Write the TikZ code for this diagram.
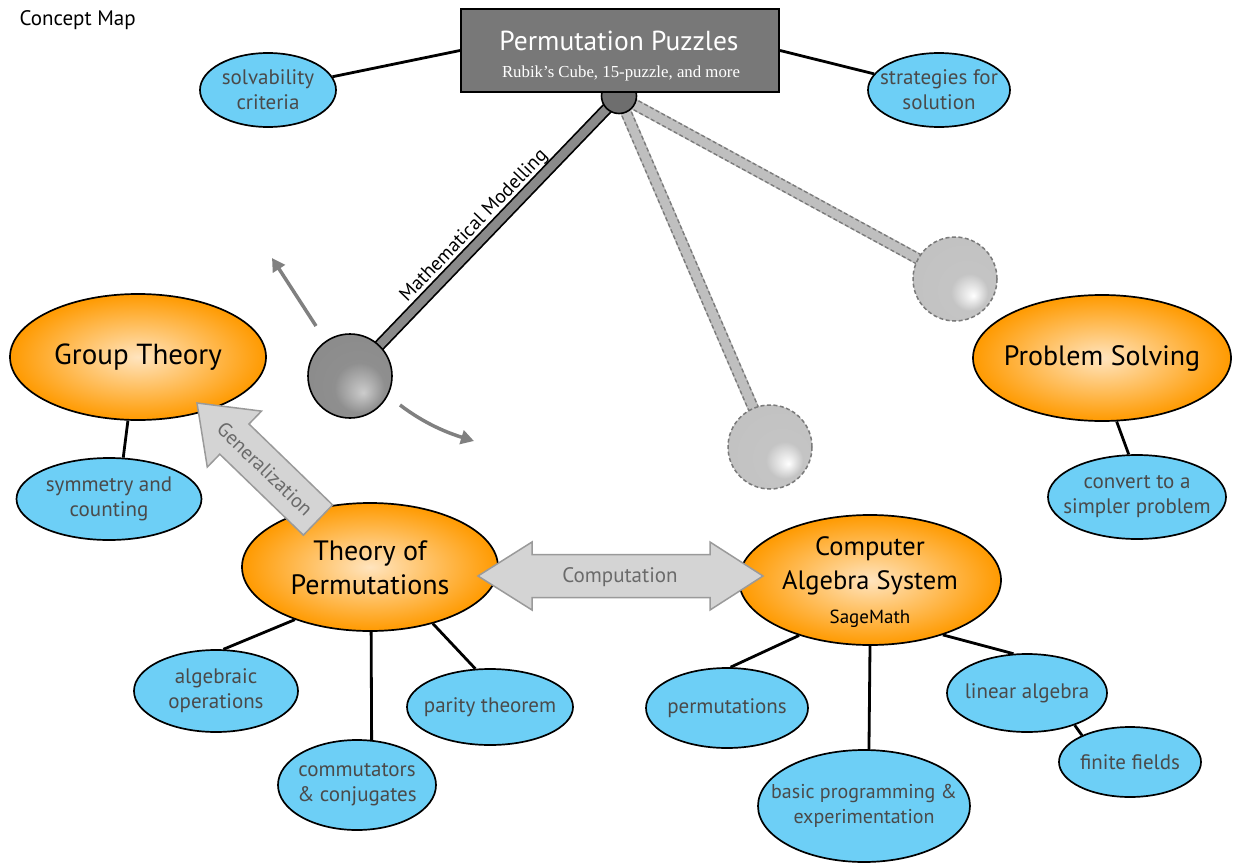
\documentclass[tikz,border=0pt]{standalone}
\usepackage{fontspec}
\setmainfont{PT Sans}
\newfontfamily\seriffont{Liberation Serif}
\usetikzlibrary{shapes.geometric,arrows.meta,calc}
\definecolor{skyblue}{HTML}{6DCFF6}
\definecolor{orangeout}{HTML}{FF9A00}
\definecolor{orangein}{HTML}{FFE4BE}
\definecolor{boxgray}{HTML}{787878}
\definecolor{hubgray}{HTML}{6E6E6E}
\definecolor{bluetext}{HTML}{4A4A4A}
\definecolor{arrowgray}{HTML}{808080}
\definecolor{blockfill}{HTML}{D4D4D4}
\definecolor{blockedge}{HTML}{9A9A9A}
\definecolor{blocktext}{HTML}{6A6A6A}
\definecolor{lightbar}{HTML}{BFBFBF}
\definecolor{dashedge}{HTML}{7A7A7A}
\definecolor{darkbar}{HTML}{8A8A8A}
\pgfdeclareradialshading{darkball}{\pgfqpoint{8bp}{-10bp}}{color(0bp)=(white!80!black); color(15bp)=(white!56!black); color(50bp)=(white!53!black)}
\pgfdeclareradialshading{lightball}{\pgfqpoint{11bp}{-10bp}}{color(0bp)=(white); color(11bp)=(white!77!black); color(50bp)=(white!75!black)}
\pgfdeclarelayer{bg}
\pgfdeclarelayer{mid}
\pgfsetlayers{bg,mid,main}
\tikzset{
  leaf/.style={ellipse, draw=black, line width=1.7pt, fill=skyblue, inner sep=0pt},
  leaftext/.style={text=bluetext, font=\fontsize{21}{25}\selectfont, align=center, inner sep=0pt},
  core/.style={ellipse, draw=black, line width=1.7pt, inner color=orangein, outer color=orangeout, inner sep=0pt},
  coretext/.style={text=black, font=\fontsize{28}{34}\selectfont, align=center, inner sep=0pt},
  link/.style={line width=2.8pt, black},
  garrow/.style={line width=3.5pt, arrowgray, -{Triangle[length=13pt,width=14pt]}},
  blockarrow/.style={fill=blockfill, draw=blockedge, line width=1.5pt, line join=miter},
  blocklabel/.style={text=blocktext, font=\fontsize{21}{24}\selectfont},
  darkballnode/.style={circle, draw=black, line width=1.6pt, shading=darkball, minimum size=84pt, inner sep=0pt},
  lightballnode/.style={circle, draw=dashedge, line width=1.5pt, dash pattern=on 4pt off 2.5pt, shading=lightball, minimum size=84pt, inner sep=0pt},
}
\begin{document}
\begin{tikzpicture}[x=1pt,y=-1pt]
\useasboundingbox (0,0) rectangle (1239,867);
\begin{pgfonlayer}{bg}
\fill[white] (0,0) rectangle (1239,867);
\end{pgfonlayer}

\node[anchor=west, font=\fontsize{21}{23}\selectfont] (title) at (16,20) {Concept Map};

% top box
\node[rectangle, draw=black, line width=2pt, fill=boxgray, minimum width=318pt, minimum height=83pt, inner sep=0pt] (pp) at (620,50.5) {};
\node[text=white, font=\fontsize{27.5}{30}\selectfont] (pptitle) at (619,41) {Permutation Puzzles};
\node[text=white, font=\seriffont\fontsize{16.8}{18}\selectfont] (ppsub) at (621,73) {Rubik’s Cube, 15-puzzle, and more};

\begin{pgfonlayer}{mid}
\node[circle, draw=black, line width=1.6pt, fill=hubgray, minimum size=35pt, inner sep=0pt] (hub) at (619,96) {};
\end{pgfonlayer}

% balls
\node[darkballnode] (ballA) at (350,376) {};
\node[lightballnode] (ballB) at (770,447) {};
\node[lightballnode] (ballC) at (955,279) {};

% ellipses (shapes)
\node[leaf, minimum width=136pt, minimum height=74pt] (solv) at (268,90) {};
\node[leaf, minimum width=142pt, minimum height=74pt] (strat) at (939,90) {};
\node[core, minimum width=256pt, minimum height=126pt] (gt) at (138,357) {};
\node[leaf, minimum width=185pt, minimum height=82pt] (sym) at (109,499) {};
\node[core, minimum width=256pt, minimum height=128pt] (tp) at (370,567) {};
\node[core, minimum width=262pt, minimum height=130pt] (cas) at (870,580) {};
\node[core, minimum width=258pt, minimum height=126pt] (ps) at (1102,358) {};
\node[leaf, minimum width=178pt, minimum height=84pt] (conv) at (1137,497) {};
\node[leaf, minimum width=164pt, minimum height=82pt] (alg) at (216,691) {};
\node[leaf, minimum width=158pt, minimum height=90pt] (comm) at (357,785) {};
\node[leaf, minimum width=166pt, minimum height=76pt] (par) at (490,707) {};
\node[leaf, minimum width=162pt, minimum height=80pt] (perm) at (727,708) {};
\node[leaf, minimum width=212pt, minimum height=112pt] (basic) at (864,806) {};
\node[leaf, minimum width=160pt, minimum height=78pt] (lin) at (1027,693) {};
\node[leaf, minimum width=142pt, minimum height=70pt] (ff) at (1130,762) {};

% ellipse texts
\node[leaftext] (solvT) at (solv) {solvability\\criteria};
\node[leaftext] (stratT) at (strat) {strategies for\\solution};
\node[coretext, font=\fontsize{29}{34}\selectfont] (gtT) at (gt) {Group Theory};
\node[leaftext] (symT) at (sym) {symmetry and\\counting};
\node[coretext] (tpT) at ($(tp)+(0,1)$) {Theory of\\Permutations};
\node[coretext, font=\fontsize{26.5}{34}\selectfont] (casT) at ($(cas)+(0,2)$) {Computer\\Algebra System\\{\fontsize{19}{20}\selectfont SageMath}};
\node[coretext] (psT) at (ps) {Problem Solving};
\node[leaftext] (convT) at (conv) {convert to a\\simpler problem};
\node[leaftext] (algT) at (alg) {algebraic\\operations};
\node[leaftext] (commT) at (comm) {commutators\\\& conjugates};
\node[leaftext] (parT) at (par) {parity theorem};
\node[leaftext] (permT) at (perm) {permutations};
\node[leaftext, font=\fontsize{20}{25}\selectfont] (basicT) at (basic) {basic programming \&\\experimentation};
\node[leaftext] (linT) at (lin) {linear algebra};
\node[leaftext] (ffT) at (ff) {finite fields};

% connectors and bars behind
\begin{pgfonlayer}{bg}
\draw[link] (pp.west) -- (solv);
\draw[link] (pp.east) -- (strat);
\draw[link] (gt.261) -- (sym.71);
\draw[link] (tp.215) -- (alg.80);
\draw[link] (tp.271) -- (comm.72);
\draw[link] (tp.318) -- (par.111);
\draw[link] (cas.218) -- (perm.85);
\draw[link] (cas.270) -- (basic.85);
\draw[link] (cas.323) -- (lin.109);
\draw[link] (lin.326) -- (ff.151);
\draw[link] (ps.283) -- (conv.101);
% light dashed bars
\foreach \b in {ballB,ballC}{
  \draw[line width=11.5pt, lightbar] (hub.center) -- (\b.center);
  \draw[line width=11.5pt, dashedge, dash pattern=on 4pt off 2.5pt] (hub.center) -- (\b.center);
  \draw[line width=8.5pt, lightbar] (hub.center) -- (\b.center);
}
% dark bar
\draw[line width=12pt, black] (hub.center) -- (ballA.center);
\draw[line width=8.5pt, darkbar] (hub.center) -- (ballA.center);
\end{pgfonlayer}
\path (ballA.center) -- (hub.center) node[pos=0.5, sloped, above=5pt, font=\fontsize{19.5}{21}\selectfont, inner sep=0pt] (mmlabel) {Mathematical Modelling};

% motion arrows
\coordinate (g1s) at (316,326);
\coordinate (g1e) at (272,258);
\coordinate (g2s) at (400,405);
\coordinate (g2e) at (474,441);
\draw[garrow] (g1s) -- (g1e);
\draw[garrow] (g2s) .. controls (425,424) and (448,433) .. (g2e);

% Generalization block arrow
\draw[blockarrow] (197,403) -- (261.5,411.1) -- (249.0,424.0) -- (332.6,504.9) -- (303.4,535.1) -- (219.8,454.2) -- (207.3,467.1) -- cycle;
\node[blocklabel, font=\fontsize{20}{22}\selectfont, rotate=-44] (genlabel) at (265,469) {Generalization};

% Computation block arrow
\draw[blockarrow] (478,576) -- (532,542) -- (532,554.5) -- (710,554.5) -- (710,542) -- (763,576) -- (710,610) -- (710,597.5) -- (532,597.5) -- (532,610) -- cycle;
\node[blocklabel] (complabel) at (620,577) {Computation};
\end{tikzpicture}
\end{document}
